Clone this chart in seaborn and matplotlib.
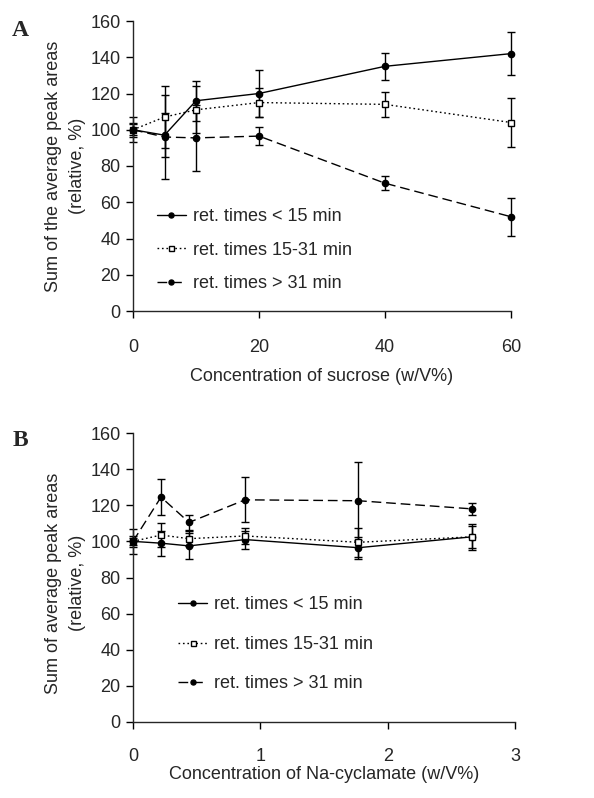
import numpy as np
import pandas as pd
import matplotlib
matplotlib.use("Agg")
import matplotlib.pyplot as plt
import seaborn as sns

# %% values
sucrose = [0, 5, 10, 20, 40, 60]
a_lt15 = [100, 97, 116, 120, 135, 142]
a_lt15_err = [7, 12, 11, 13, 7.5, 12]
a_mid = [100, 107, 111, 115, 114, 104]
a_mid_err = [4, 17, 13, 8, 7, 13.5]
a_gt31 = [100, 96, 95.5, 96.5, 70.5, 52]
a_gt31_err = [3, 23, 18, 5, 4, 10.5]

cyclamate = [0, 0.22, 0.44, 0.88, 1.77, 2.66]
b_lt15 = [100, 99, 97.5, 101, 96.5, 102.5]
b_lt15_err = [7, 7, 7, 5, 6, 6]
b_mid = [100, 103.5, 101.5, 103, 99.5, 102.5]
b_mid_err = [3, 6.5, 4, 4.5, 8, 7]
b_gt31 = [100, 124.5, 110.5, 123, 122.5, 118]
b_gt31_err = [2, 10, 4, 12.5, 21.5, 3.5]

labels = ["ret. times < 15 min", "ret. times 15-31 min", "ret. times > 31 min"]
yticks = [0, 20, 40, 60, 80, 100, 120, 140, 160]

# %% style
sns.set_style("ticks")
plt.rcParams['font.family'] = ['Liberation Sans', 'DejaVu Sans']
plt.rcParams['font.size'] = 13
plt.rcParams['axes.linewidth'] = 1.0
plt.rcParams['xtick.major.size'] = 5
plt.rcParams['ytick.major.size'] = 5

styles = [
    dict(linestyle='-', marker='o', markerfacecolor='black', markersize=4.5),
    dict(linestyle=(0, (1.2, 2)), marker='s', markerfacecolor='white', markersize=4.5),
    dict(linestyle=(0, (7, 3.5)), marker='o', markerfacecolor='black', markersize=4.5),
]


def draw_panel(ax, x, series, errs):
    for y, e, lab, st in zip(series, errs, labels, styles):
        df = pd.DataFrame({'x': x, 'y': y})
        ax.errorbar(x, y, yerr=e, fmt='none', ecolor='black', elinewidth=1,
                    capsize=3, capthick=1, clip_on=False, zorder=2)
        sns.lineplot(data=df, x='x', y='y', ax=ax, color='black', linewidth=1,
                     markeredgecolor='black', markeredgewidth=1, label=lab,
                     clip_on=False, zorder=3, **st)
    ax.set_ylim(0, 160)
    ax.set_yticks(yticks)
    sns.despine(ax=ax)
    ax.tick_params(axis='both', labelsize=13, pad=4, width=1, color='black')


fig = plt.figure(figsize=(5.94, 7.98), dpi=100)

# %% panel A
axA = fig.add_axes([133 / 594, 1 - 311 / 798, 378 / 594, 290 / 798])
draw_panel(axA, sucrose, [a_lt15, a_mid, a_gt31], [a_lt15_err, a_mid_err, a_gt31_err])
axA.set_xlim(0, 60)
axA.set_xticks([0, 20, 40, 60])
axA.tick_params(axis='x', pad=15)
axA.set_xlabel("Concentration of sucrose (w/V%)", fontsize=13)
axA.set_ylabel("Sum of the average peak areas\n(relative, %)", fontsize=13, linespacing=1.55)
axA.yaxis.set_label_coords(-0.125, 0.5)
axA.xaxis.set_label_coords(0.5, -0.195)
axA.legend(loc='upper left', bbox_to_anchor=(0.063, 0.355), frameon=False, fontsize=13,
           borderpad=0, borderaxespad=0, handlelength=1.6, handletextpad=0.4,
           labelspacing=0.92, markerscale=0.8)
fig.text(20 / 594, 1 - 30 / 798, "A", fontsize=17, fontweight='bold',
         family='Liberation Serif', ha='center', va='center')

# %% panel B
axB = fig.add_axes([133 / 594, 1 - 722 / 798, 382 / 594, 289 / 798])
draw_panel(axB, cyclamate, [b_lt15, b_mid, b_gt31], [b_lt15_err, b_mid_err, b_gt31_err])
axB.set_xlim(0, 3)
axB.set_xticks([0, 1, 2, 3])
axB.tick_params(axis='x', pad=14)
axB.set_xlabel("Concentration of Na-cyclamate (w/V%)", fontsize=13)
axB.set_ylabel("Sum of average peak areas\n(relative, %)", fontsize=13, linespacing=1.55)
axB.yaxis.set_label_coords(-0.123, 0.48)
axB.xaxis.set_label_coords(0.5, -0.153)
axB.legend(loc='upper left', bbox_to_anchor=(0.118, 0.435), frameon=False, fontsize=13,
           borderpad=0, borderaxespad=0, handlelength=1.6, handletextpad=0.4,
           labelspacing=1.25, markerscale=0.8)
fig.text(20 / 594, 1 - 440 / 798, "B", fontsize=17, fontweight='bold',
         family='Liberation Serif', ha='center', va='center')

fig.savefig("out.png", dpi=100)
